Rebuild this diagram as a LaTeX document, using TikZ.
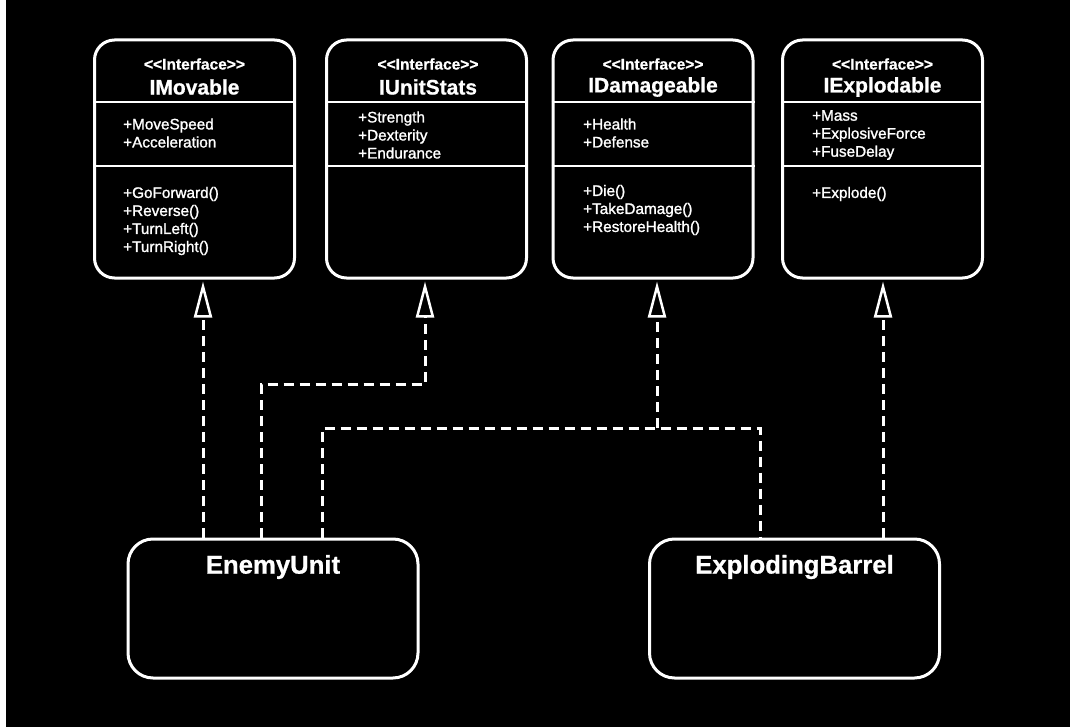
\documentclass[tikz,border=0pt]{standalone}
\usepackage{fontspec}
\setmainfont{Liberation Sans}[BoldFeatures={FakeBold=0.8}]
\newfontfamily\medfont{Liberation Sans}[FakeBold=1.4]
\usetikzlibrary{arrows.meta,calc}
\begin{document}
\begin{tikzpicture}[x=1pt,y=-1pt,
  umlbox/.style={draw=white, line width=3pt, rounded corners=20pt, fill=black, minimum width=200pt, minimum height=238pt, inner sep=0pt},
  classbox/.style={draw=white, line width=3pt, rounded corners=25pt, fill=black, minimum width=290pt, minimum height=139pt, inner sep=0pt},
  sepline/.style={draw=white, line width=2pt},
  stereo/.style={text=white, inner sep=0pt, font=\fontsize{15.5}{17}\selectfont\bfseries},
  iname/.style={text=white, inner sep=0pt, font=\fontsize{21}{23}\selectfont\bfseries},
  members/.style={text=white, inner sep=0pt, anchor=west, align=left, font=\fontsize{15.3}{18}\selectfont\medfont},
  cname/.style={text=white, inner sep=0pt, font=\fontsize{25.7}{28}\selectfont\bfseries},
  dashline/.style={draw=white, line width=3pt, dash pattern=on 10pt off 6pt},
  realize/.style={dashline, -{Triangle[open, length=36pt, width=18pt, line width=2.5pt]}, shorten >=2pt}
]
\useasboundingbox (0,0) rectangle (1070,727);
\fill[white] (0,0) rectangle (6,727);
\fill[black] (6,0) rectangle (1070,727);

% interface boxes
\node[umlbox] (imov) at (194.5,159) {};
\node[umlbox] (istat) at (426.5,159) {};
\node[umlbox] (idam) at (653,159) {};
\node[umlbox] (iexp) at (882.5,159) {};

\foreach \b in {imov,istat,idam,iexp}{
  \draw[sepline] (\b.west |- 0,102) -- (\b.east |- 0,102);
  \draw[sepline] (\b.west |- 0,166) -- (\b.east |- 0,166);
}

% headers
\node[stereo] (imovst) at (194.5,64) {<\kern0pt<Interface>\kern0pt>};
\node[iname] (imovnm) at (194.5,87) {IMovable};
\node[stereo] (istatst) at (428,64) {<\kern0pt<Interface>\kern0pt>};
\node[iname] (istatnm) at (428,87) {IUnitStats};
\node[stereo] (idamst) at (653,64) {<\kern0pt<Interface>\kern0pt>};
\node[iname] (idamnm) at (653,87) {IDamageable};
\node[stereo] (iexpst) at (882.5,64) {<\kern0pt<Interface>\kern0pt>};
\node[iname] (iexpnm) at (882.5,87) {IExplodable};

% members
\node[members] (imova) at (123,133) {+MoveSpeed\\+Acceleration};
\node[members] (imovm) at (123,221) {+GoForward()\\+Reverse()\\+TurnLeft()\\+TurnRight()};
\node[members] (istata) at (358,135) {+Strength\\+Dexterity\\+Endurance};
\node[members] (idama) at (583,133) {+Health\\+Defense};
\node[members] (idamm) at (583,210) {+Die()\\+TakeDamage()\\+RestoreHealth()};
\node[members] (iexpa) at (812,135) {+Mass\\+ExplosiveForce\\+FuseDelay};
\node[members] (iexpm) at (812,194) {+Explode()};

% classes
\node[classbox] (enemy) at (273,608.5) {};
\node[cname] (enemynm) at (273,567) {EnemyUnit};
\node[classbox] (barrel) at (794.5,608.5) {};
\node[cname] (barrelnm) at (794.5,567) {ExplodingBarrel};

% connectors
\coordinate (join) at (657,428);
\draw[realize] (enemy.north -| 203,0) -- (imov.south -| 203,0);
\draw[realize] (enemy.north -| 261,0) -- (261,384) -- (425,384) -- (istat.south -| 425,0);
\draw[dashline] (enemy.north -| 322,0) -- (322,428) -- (760,428) -- (barrel.north -| 760,0);
\draw[realize] (join) -- (idam.south -| join);
\draw[realize] (barrel.north -| 883,0) -- (iexp.south -| 883,0);
\end{tikzpicture}
\end{document}
